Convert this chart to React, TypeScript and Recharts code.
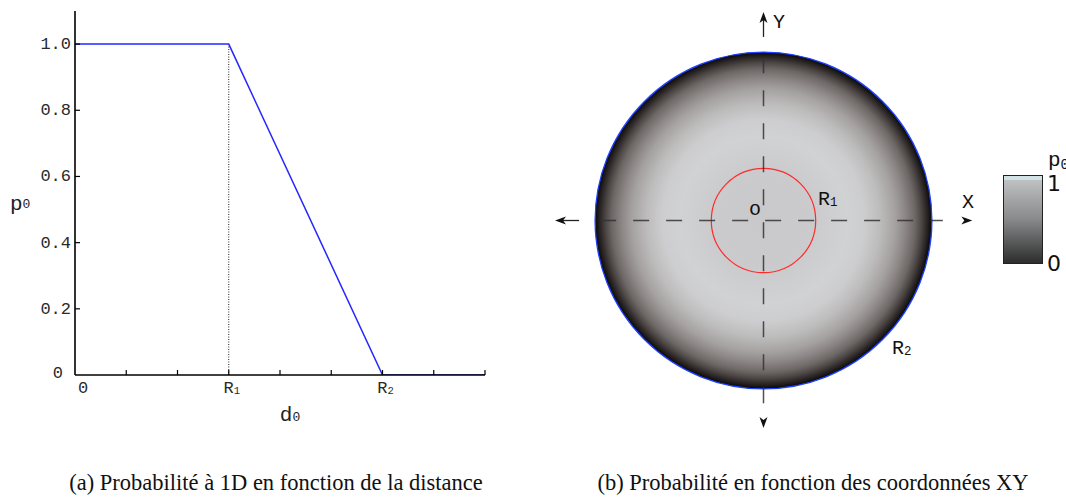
import React from 'react';
import * as RC from 'recharts';
import {
  LineChart,
  Line,
  XAxis,
  YAxis,
  ReferenceLine,
  ScatterChart,
  Scatter,
  Label,
} from 'recharts';

// 1D profile: p0 as a function of the distance d0
const distance = [0, 3, 6, 8];
const probability = [1, 1, 0, 0];
const distTicks = [0, 1, 2, 3, 4, 5, 6, 7, 8];
const distTickLabels = ['0', '', '', 'R1', '', '', 'R2', '', ''];
const probTicks = [0, 0.2, 0.4, 0.6, 0.8, 1.0];
const probTickLabels = ['0', '0.2', '0.4', '0.6', '0.8', '1.0'];
const r1Distance = 3;

// XY map: rings, axis arrows and annotations (data units, R2 = 1)
const ringNames = ['R1', 'R2'];
const ringRadii = [0.31, 1.0];
const arrowX = [-1.238, 1.24, 0, 0];
const arrowY = [0, 0, 1.238, -1.232];
const arrowDir = ['left', 'right', 'up', 'down'];
const noteX = [0.056, -0.086, 0.324, 1.179, 0.763];
const noteY = [1.143, 0.033, 0.092, 0.074, -0.793];
const noteText = ['Y', 'o', 'R1', 'X', 'R2'];

// colour bar
const barTicks = ['1', '0'];

const XY_DOMAIN: [number, number] = [-1.25, 1.25];
const XY_SIZE = 421;

const MONO = '"Liberation Mono", "DejaVu Sans Mono", monospace';
const SERIF = '"Liberation Serif", "Times New Roman", serif';

const profile = distance.map((d, i) => ({ d, p: probability[i] }));
const arrows = arrowX.map((x, i) => ({ x, y: arrowY[i], dir: arrowDir[i] }));
const notes = noteX.map((x, i) => ({ x, y: noteY[i], text: noteText[i] }));

// "R1" -> R with a small index digit
function withIndex(text: string, size: number) {
  const m = text.match(/^([A-Za-z]+)(\d+)$/);
  if (!m) return text;
  return [
    <tspan key="b">{m[1]}</tspan>,
    <tspan key="s" fontSize={size * 0.62} dy={1}>
      {m[2]}
    </tspan>,
  ];
}

const LeftTick = (props: any) => {
  const { x, y, payload } = props;
  const v = payload.value;
  const text = probTickLabels[probTicks.indexOf(v)];
  const zero = v === 0;
  return (
    <g>
      {!zero && <line x1={x} x2={x + 5} y1={y} y2={y} stroke="#000" strokeWidth={1.2} />}
      <text
        x={zero ? x - 12 : x - 4}
        y={zero ? y + 3 : y + 5}
        textAnchor="end"
        fontFamily={MONO}
        fontSize={17}
        fill="#2a2a2a"
      >
        {text}
      </text>
    </g>
  );
};

const BottomTick = (props: any) => {
  const { x, y, payload } = props;
  const i = distTicks.indexOf(payload.value);
  const text = distTickLabels[i];
  const first = i === 0;
  return (
    <g>
      {!first && <line x1={x} x2={x} y1={y} y2={y - 5} stroke="#000" strokeWidth={1.2} />}
      {text && (
        <text
          x={x + 3}
          y={y + 18}
          textAnchor={first ? 'start' : 'middle'}
          fontFamily={MONO}
          fontSize={17}
          fill="#2a2a2a"
        >
          {withIndex(text, 17)}
        </text>
      )}
    </g>
  );
};

const TopTick = (props: any) => {
  const { x, y, payload } = props;
  if (payload.value === 0) return <g />;
  return <line x1={x} x2={x} y1={y} y2={y + 5} stroke="#000" strokeWidth={1.2} />;
};

function ProfileChart() {
  return (
    <LineChart
      width={500}
      height={440}
      data={profile}
      margin={{ top: 11, right: 15, bottom: 20, left: 0 }}
    >
      <XAxis
        dataKey="d"
        type="number"
        domain={[0, 8]}
        ticks={distTicks}
        interval={0}
        height={45}
        tickSize={0}
        tickMargin={0}
        tickLine={false}
        tick={BottomTick}
        axisLine={{ stroke: '#000', strokeWidth: 1.6 }}
      >
        <Label
          content={(p: any) => {
            const vb = p.viewBox;
            return (
              <text
                x={vb.x + vb.width / 2 + 10}
                y={vb.y + 46}
                textAnchor="middle"
                fontFamily={MONO}
                fontSize={21}
                fill="#222"
              >
                <tspan>d</tspan>
                <tspan fontSize={13} dy={0}>0</tspan>
              </text>
            );
          }}
        />
      </XAxis>
      <XAxis
        xAxisId="top"
        orientation="top"
        type="number"
        domain={[0, 8]}
        ticks={distTicks}
        interval={0}
        height={0}
        tickSize={0}
        tickMargin={0}
        tickLine={false}
        tick={TopTick}
        axisLine={{ stroke: '#000', strokeWidth: 1.6 }}
      />
      <YAxis
        type="number"
        domain={[0, 1.1]}
        ticks={probTicks}
        interval={0}
        width={75}
        tickSize={0}
        tickMargin={0}
        tickLine={false}
        tick={LeftTick}
        allowDataOverflow
        axisLine={{ stroke: '#000', strokeWidth: 1.6 }}
      >
        <Label
          content={(p: any) => {
            const vb = p.viewBox;
            return (
              <text x={10} y={vb.y + 199} fontFamily={MONO} fontSize={21} fill="#222">
                <tspan>p</tspan>
                <tspan fontSize={13} dy={-2}>0</tspan>
              </text>
            );
          }}
        />
      </YAxis>
      <YAxis
        yAxisId="frame"
        orientation="right"
        type="number"
        domain={[0, 1.1]}
        width={0}
        tick={false}
        tickLine={false}
        axisLine={{ stroke: '#555', strokeWidth: 1.6 }}
      />
      <ReferenceLine
        segment={[
          { x: r1Distance, y: 0 },
          { x: r1Distance, y: 1 },
        ]}
        stroke="#222"
        strokeWidth={1}
        strokeDasharray="1 1.5"
      />
      <Line
        dataKey="p"
        type="linear"
        stroke="#2626ff"
        strokeWidth={1.5}
        dot={false}
        isAnimationActive={false}
      />
    </LineChart>
  );
}

// linear maps from the XY plot area
function useXYScale() {
  const lib: any = RC;
  const area = lib.usePlotArea ? lib.usePlotArea() : undefined;
  const a = area ?? { x: 0, y: 0, width: XY_SIZE, height: XY_SIZE };
  const span = XY_DOMAIN[1] - XY_DOMAIN[0];
  const sx = (v: number) => a.x + ((v - XY_DOMAIN[0]) / span) * a.width;
  const sy = (v: number) => a.y + ((XY_DOMAIN[1] - v) / span) * a.height;
  return { sx, sy };
}

function Disc() {
  const { sx, sy } = useXYScale();
  const cx = sx(0);
  const cy = sy(0);
  const outer = sx(ringRadii[ringNames.indexOf('R2')]) - cx;
  const inner = sx(ringRadii[ringNames.indexOf('R1')]) - cx;
  return (
    <g>
      <defs>
        <radialGradient id="pShade" cx="50%" cy="50%" r="50%">
          <stop offset="0" stopColor="#c9c9cb" />
          <stop offset="0.3" stopColor="#cbcbcd" />
          <stop offset="0.5" stopColor="#d1d2d4" />
          <stop offset="0.6" stopColor="#cdcdcf" />
          <stop offset="0.69" stopColor="#bebdbd" />
          <stop offset="0.78" stopColor="#a5a2a1" />
          <stop offset="0.84" stopColor="#8d8887" />
          <stop offset="0.9" stopColor="#6d6766" />
          <stop offset="0.94" stopColor="#4a4443" />
          <stop offset="0.98" stopColor="#201c1c" />
          <stop offset="1" stopColor="#050505" />
        </radialGradient>
      </defs>
      <circle cx={cx} cy={cy} r={outer} fill="url(#pShade)" stroke="#2040ff" strokeWidth={1.3} />
      <circle cx={cx} cy={cy} r={inner} fill="none" stroke="#ff2a2a" strokeWidth={1.2} />
    </g>
  );
}

const ArrowHead = (props: any) => {
  const { cx, cy, payload } = props;
  const rot = { right: 0, down: 90, left: 180, up: 270 }[payload.dir as string] ?? 0;
  return (
    <path
      d="M0,0 L-11,-4 L-8,0 L-11,4 Z"
      fill="#111"
      transform={`translate(${cx},${cy}) rotate(${rot})`}
    />
  );
};

const Note = (props: any) => {
  const { cx, cy, payload } = props;
  return (
    <text x={cx} y={cy} fontFamily={MONO} fontSize={20} fill="#111">
      {withIndex(payload.text, 20)}
    </text>
  );
};

function XYChart() {
  return (
    <ScatterChart width={XY_SIZE} height={XY_SIZE} margin={{ top: 0, right: 0, bottom: 0, left: 0 }}>
      <XAxis type="number" dataKey="x" domain={XY_DOMAIN} hide allowDataOverflow />
      <YAxis type="number" dataKey="y" domain={XY_DOMAIN} hide allowDataOverflow />
      <Disc />
      <ReferenceLine
        segment={[
          { x: -0.97, y: 0 },
          { x: 1.065, y: 0 },
        ]}
        stroke="#333"
        strokeOpacity={0.85}
        strokeWidth={1.5}
        strokeDasharray="16 17"
      />
      <ReferenceLine
        segment={[
          { x: 0, y: 0.97 },
          { x: 0, y: -1.095 },
        ]}
        stroke="#333"
        strokeOpacity={0.85}
        strokeWidth={1.5}
        strokeDasharray="16 17"
      />
      <ReferenceLine
        segment={[
          { x: -1.2, y: 0 },
          { x: -1.095, y: 0 },
        ]}
        stroke="#222"
        strokeWidth={1.3}
      />
      <ReferenceLine
        segment={[
          { x: 0, y: 1.2 },
          { x: 0, y: 1.09 },
        ]}
        stroke="#222"
        strokeWidth={1.3}
      />
      <Scatter data={arrows} shape={ArrowHead} isAnimationActive={false} />
      <Scatter data={notes} shape={Note} isAnimationActive={false} />
    </ScatterChart>
  );
}

function ColorBar() {
  return (
    <svg width={71} height={130} style={{ position: 'absolute', left: 995, top: 148, overflow: 'visible' }}>
      <defs>
        <linearGradient id="pBar" x1="0" y1="0" x2="0" y2="1">
          <stop offset="0" stopColor="#c6c7c9" />
          <stop offset="0.5" stopColor="#88898b" />
          <stop offset="1" stopColor="#2c2c2c" />
        </linearGradient>
      </defs>
      <rect x={8.5} y={27.5} width={39} height={88} fill="url(#pBar)" stroke="#222" strokeWidth={1} />
      <rect x={9} y={28} width={38} height={4} fill="#d0e2e6" />
      <text x={53} y={18} fontFamily={MONO} fontSize={21} fill="#111">
        <tspan>p</tspan>
        <tspan fontSize={14} dy={3}>0</tspan>
      </text>
      <text x={52} y={43} fontFamily='"DejaVu Sans", sans-serif' fontSize={22} fill="#111">
        {barTicks[0]}
      </text>
      <text x={52} y={123} fontFamily='"DejaVu Sans", sans-serif' fontSize={22} fill="#111">
        {barTicks[1]}
      </text>
    </svg>
  );
}

export default function App() {
  return (
    <div
      style={{
        position: 'absolute',
        left: 0,
        top: 0,
        width: 1066,
        height: 498,
        background: '#fff',
        overflow: 'hidden',
      }}
    >
      <div style={{ position: 'absolute', left: 0, top: 0 }}>
        <ProfileChart />
      </div>
      <div style={{ position: 'absolute', left: 553, top: 10 }}>
        <XYChart />
      </div>
      <ColorBar />
      <svg width={1066} height={498} style={{ position: 'absolute', left: 0, top: 0, pointerEvents: 'none' }}>
        <text x={276} y={490} textAnchor="middle" fontFamily={SERIF} fontSize={22.5} fill="#111">
          (a) Probabilité à 1D en fonction de la distance
        </text>
        <text x={813} y={490} textAnchor="middle" fontFamily={SERIF} fontSize={22.5} fill="#111">
          (b) Probabilité en fonction des coordonnées XY
        </text>
      </svg>
    </div>
  );
}
